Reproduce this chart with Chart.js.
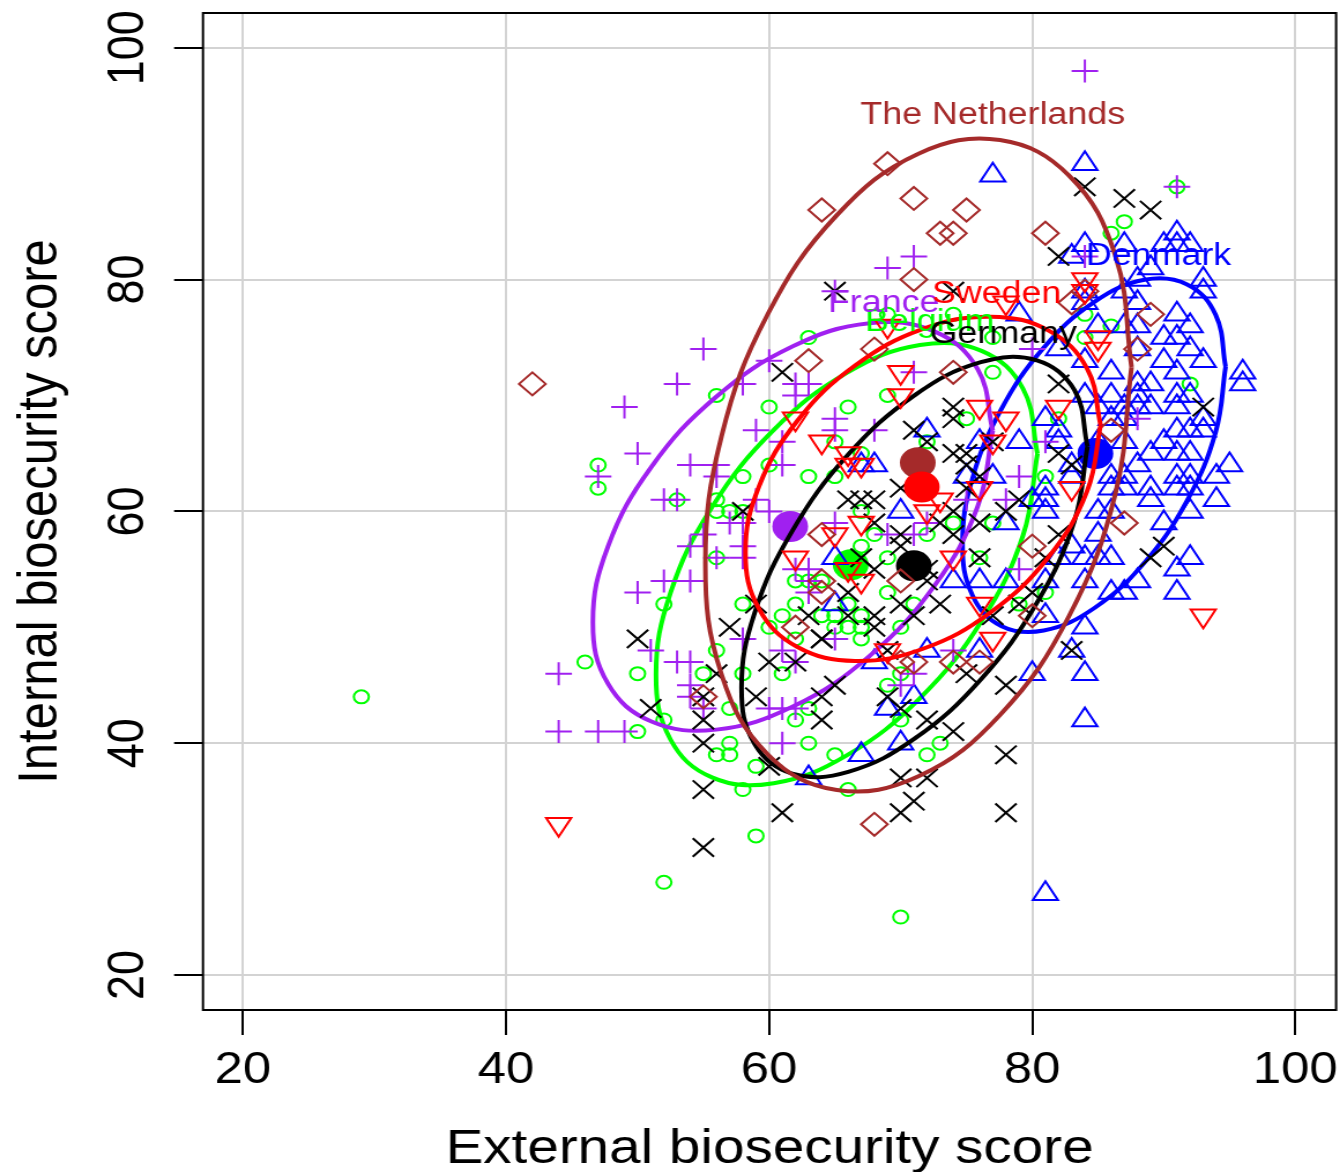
<!DOCTYPE html>
<html>
<head>
<meta charset="utf-8">
<title>Biosecurity scores</title>
<script src="https://cdn.jsdelivr.net/npm/chart.js@4"></script>
<style>
  html, body { margin: 0; background: #fff; overflow: hidden; }
  /* the original figure was stretched sideways, text and marks included */
  canvas { display: block; transform: scaleX(1.1552); transform-origin: 0 0; }
</style>
</head>
<body>
<canvas id="chart" width="1160" height="1172"></canvas>
<script>
// scores, [external, internal]
const germanyPts = [[84,88],[87,87],[89,86],[82,82],[65,79],[74,79],[61,72],[66,61],[67,61],[68,61],[58,60],[68,59],[70,62],[70,58],[70,57],[68,55],[67,56],[66,53],[70,52],[68,51],[68,50],[66,51],[63,51],[64,49],[59,52],[50,49],[57,50],[71,67],[74,69],[74,68],[72,66],[74,65],[75,65],[75,64],[76,63],[75,62],[77,66],[82,71],[82,65],[83,64],[93,69],[79,61],[78,60],[74,60],[74,58],[76,59],[73,59],[82,58],[90,57],[89,56],[76,56],[72,55],[72,54],[73,52],[71,51],[80,53],[79,52],[81,56],[77,51],[51,43],[56,46],[55,42],[55,40],[55,44],[55,36],[55,31],[60,47],[59,44],[62,47],[64,49],[65,45],[64,44],[64,42],[72,42],[74,41],[70,37],[72,37],[71,35],[70,34],[61,34],[78,39],[78,34],[60,38],[75,46],[78,45],[69,44],[70,43],[83,48],[69,48]];
const denmarkPts = [[84,90],[77,89],[91,84],[90,83],[92,83],[91,83],[84,83],[83,82],[87,83],[89,81],[88,80],[93,80],[93,79],[87,79],[84,79],[88,78],[91,77],[92,76],[90,75],[91,75],[85,76],[87,76],[88,76],[79,77],[84,78],[82,74],[88,74],[84,73],[86,72],[90,73],[92,74],[93,73],[91,72],[84,70],[86,70],[88,71],[89,71],[91,70],[85,69],[87,69],[88,70],[89,69],[91,69],[92,70],[81,68],[82,67],[86,68],[87,68],[88,69],[91,67],[92,67],[93,67],[93,68],[79,66],[82,66],[85,66],[87,66],[90,66],[89,65],[91,65],[92,65],[83,64],[88,64],[91,63],[92,63],[83,63],[86,63],[87,63],[86,62],[87,62],[89,62],[91,62],[92,62],[89,61],[81,62],[81,61],[80,61],[85,60],[86,60],[81,60],[78,59],[85,58],[83,57],[84,56],[85,56],[86,56],[82,56],[81,54],[84,54],[76,54],[74,54],[78,54],[86,53],[87,53],[88,54],[81,51],[84,50],[72,67],[77,63],[76,66],[75,63],[68,64],[67,64],[70,60],[65,56],[65,52],[67,39],[70,40],[69,43],[71,44],[63,37],[81,27],[80,46],[68,47],[72,48],[76,48],[83,48],[84,42],[84,46],[96,72],[96,71],[95,64],[94,63],[94,61],[92,56],[91,55],[91,53],[90,59],[92,60]];
const francePts = [[84,98],[71,82],[69,81],[65,79],[55,74],[53,71],[49,69],[50,65],[47,63],[52,61],[53,61],[54,64],[56,64],[56,63],[60,73],[58,71],[62,71],[63,71],[62,70],[59,67],[61,66],[65,68],[65,67],[68,67],[61,64],[59,61],[60,60],[57,59],[58,59],[55,58],[54,57],[58,57],[56,56],[58,56],[52,54],[54,54],[50,53],[65,59],[69,58],[62,55],[63,55],[63,54],[63,53],[44,46],[44,41],[47,41],[49,41],[51,48],[53,47],[54,47],[54,45],[54,44],[55,43],[58,49],[61,48],[62,47],[65,49],[60,43],[61,43],[62,43],[61,40],[74,48],[71,46],[70,45],[81,66],[79,63],[78,61],[75,61],[72,59],[71,58],[79,55],[88,68],[71,72],[80,74],[91,88],[84,82]];
const belgiumPts = [[29,44],[52,28],[59,32],[70,25],[47,64],[47,62],[53,61],[56,70],[60,69],[66,69],[69,70],[67,65],[65,66],[60,64],[58,63],[63,63],[65,63],[56,61],[56,60],[57,60],[58,60],[67,60],[68,58],[67,57],[69,56],[56,56],[64,54],[62,54],[63,54],[69,53],[52,52],[58,52],[62,52],[61,51],[64,51],[65,51],[66,52],[67,51],[66,50],[67,50],[65,50],[70,50],[60,50],[71,52],[77,72],[75,68],[72,66],[92,71],[81,63],[77,59],[74,59],[72,58],[76,56],[79,52],[81,53],[82,68],[63,75],[87,85],[86,84],[91,88],[84,77],[86,76],[84,75],[74,77],[69,77],[77,75],[46,47],[50,46],[55,46],[50,41],[58,46],[61,46],[62,49],[67,49],[56,48],[57,43],[52,42],[63,43],[62,42],[57,40],[56,39],[57,39],[59,38],[63,40],[65,39],[58,36],[66,36],[73,40],[72,39],[69,45],[70,42],[70,46]];
const swedenPts = [[62,68],[64,66],[66,65],[67,64],[66,64],[70,72],[70,70],[67,59],[65,58],[62,56],[66,55],[67,54],[76,69],[78,68],[77,66],[82,69],[83,62],[76,62],[73,61],[72,60],[74,56],[76,52],[93,51],[77,49],[85,74],[84,80],[84,79],[78,78],[85,75],[69,76],[44,33],[69,48]];
const netherlandsPts = [[42,71],[63,73],[68,74],[64,58],[64,54],[64,53],[62,50],[70,54],[64,86],[69,90],[71,87],[75,86],[73,84],[74,84],[81,84],[71,80],[84,79],[83,78],[89,77],[74,72],[88,74],[86,67],[87,59],[80,57],[80,51],[55,44],[68,33],[70,47],[71,47],[74,47],[76,47]];

// ellipse outlines
const germanyRing = [[84.2,65.61],[83.2,70.48],[80.35,73.03],[76.09,72.87],[71.05,70.01],[66.01,64.9],[61.75,58.3],[58.9,51.25],[57.9,44.79],[58.9,39.92],[61.75,37.37],[66.01,37.53],[71.05,40.39],[76.09,45.5],[80.35,52.1],[83.2,59.15],[84.2,65.61]];
const denmarkRing = [[94.7,72.48],[93.94,76.96],[91.77,79.58],[88.53,79.98],[84.7,78.06],[80.87,74.12],[77.63,68.78],[75.46,62.87],[74.7,57.22],[75.46,52.74],[77.63,50.12],[80.87,49.72],[84.7,51.64],[88.53,55.58],[91.77,60.92],[93.94,66.83],[94.7,72.48]];
const franceRing = [[77,66.97],[75.84,72.29],[72.55,75.53],[67.62,76.23],[61.8,74.24],[55.98,69.89],[51.05,63.84],[47.76,57.01],[46.6,50.43],[47.76,45.11],[51.05,41.87],[55.98,41.17],[61.8,43.16],[67.62,47.51],[72.55,53.56],[75.84,60.39],[77,66.97]];
const belgiumRing = [[80.4,64.98],[79.3,70.58],[76.15,73.85],[71.45,74.35],[65.9,71.95],[60.35,67.03],[55.65,60.36],[52.5,52.97],[51.4,45.92],[52.5,40.32],[55.65,37.05],[60.35,36.55],[65.9,38.95],[71.45,43.87],[76.15,50.54],[79.3,57.93],[80.4,64.98]];
const swedenRing = [[85.2,67.44],[84.17,72.32],[81.25,75.6],[76.87,76.8],[71.7,75.75],[66.53,72.58],[62.15,67.82],[59.23,62.16],[58.2,56.46],[59.23,51.58],[62.15,48.3],[66.53,47.1],[71.7,48.15],[76.87,51.32],[81.25,56.08],[84.17,61.74],[85.2,67.44]];
const netherlandsRing = [[87.55,72.45],[86.32,82.07],[82.8,88.97],[77.55,92.04],[71.35,90.86],[65.15,85.56],[59.9,77.03],[56.38,66.48],[55.15,55.55],[56.38,45.93],[59.9,39.03],[65.15,35.96],[71.35,37.14],[77.55,42.44],[82.8,50.97],[86.32,61.52],[87.55,72.45]];

const countries = ['Belgium', 'Denmark', 'France', 'Germany', 'The Netherlands', 'Sweden'];
const colours = ['#00ff00', '#0000ff', '#a020f0', '#000000', '#a52a2a', '#ff0000'];
const means = [[66.2,55.4],[84.8,65],[61.6,58.7],[71,55.3],[71.3,64.2],[71.6,62.1]];
const labelSpots = [[72.2,76.28],[89.6,81.98],[68.7,77.98],[77.8,75.28],[77,94.18],[77.3,78.68]];
const tickValues = [20, 40, 60, 80, 100];

const pts = [belgiumPts, denmarkPts, francePts, germanyPts, netherlandsPts, swedenPts];
const rings = [belgiumRing, denmarkRing, franceRing, germanyRing, netherlandsRing, swedenRing];
const shapes = [
  { style: 'circle', radius: 6.5, rotation: 0 },
  { style: 'triangle', radius: 12.5, rotation: 0 },
  { style: 'cross', radius: 11.5, rotation: 0 },
  { style: 'crossRot', radius: 13, rotation: 0 },
  { style: 'rectRot', radius: 11.5, rotation: 0 },
  { style: 'triangle', radius: 12.5, rotation: 180 }
];
const toXY = a => a.map(p => ({ x: p[0], y: p[1] }));

// one group after the other, alphabetical: points, ellipse, mean dot
const datasets = [];
countries.forEach((name, i) => {
  datasets.push({
    label: name, data: toXY(pts[i]), showLine: false, pointStyle: shapes[i].style, pointRadius: shapes[i].radius,
    pointRotation: shapes[i].rotation, pointBorderColor: colours[i], pointBackgroundColor: 'transparent', pointBorderWidth: 2
  });
  datasets.push({
    label: name + ' ellipse', data: toXY(rings[i]), showLine: true, tension: 0.4,
    borderColor: colours[i], borderWidth: 4, pointRadius: 0, fill: false
  });
  datasets.push({
    label: name + ' mean', data: toXY([means[i]]), showLine: false, pointStyle: 'circle', pointRadius: 15.5,
    pointBackgroundColor: colours[i], pointBorderColor: colours[i], pointBorderWidth: 0
  });
});
datasets.forEach((d, i) => { d.order = datasets.length - i; });

const frameAndNames = {
  id: 'frameAndNames',
  afterDatasetsDraw(chart) {
    const { ctx, chartArea: a, scales } = chart;
    ctx.save();
    ctx.strokeStyle = '#000';
    ctx.lineWidth = 2;
    ctx.strokeRect(a.left, a.top, a.right - a.left, a.bottom - a.top);
    ctx.font = '31px "Liberation Sans"';
    ctx.textAlign = 'center';
    ctx.textBaseline = 'middle';
    countries.forEach((name, i) => {
      ctx.fillStyle = colours[i];
      ctx.fillText(name, scales.x.getPixelForValue(labelSpots[i][0]), scales.y.getPixelForValue(labelSpots[i][1]));
    });
    ctx.restore();
  }
};

function fixSize(prop, size) {
  return scale => {
    scale[prop] = size;
    scale.paddingLeft = scale.paddingRight = scale.paddingTop = scale.paddingBottom = 0;
  };
}

const axisBase = {
  type: 'linear',
  bounds: 'data',
  afterBuildTicks: s => { s.ticks = tickValues.map(v => ({ value: v })); },
  grid: { color: '#d3d3d3', lineWidth: 2, tickColor: '#000', tickWidth: 2, tickLength: 25, drawTicks: true },
  border: { display: false }
};

new Chart(document.getElementById('chart'), {
  type: 'scatter',
  data: { datasets },
  plugins: [frameAndNames],
  options: {
    responsive: false,
    animation: false,
    events: [],
    layout: { autoPadding: false, padding: { top: 13, right: 3.4, left: 0, bottom: 0 } },
    plugins: { legend: { display: false }, tooltip: { enabled: false } },
    scales: {
      x: {
        ...axisBase,
        min: 16.96, max: 103.1,
        afterFit: fixSize('height', 162),
        ticks: { autoSkip: false, maxRotation: 0, padding: 9, color: '#000', font: { family: 'Liberation Sans', size: 44 } },
        title: { display: true, text: 'External biosecurity score', color: '#000', padding: { top: 8, bottom: -7 }, font: { family: 'Liberation Sans', size: 49 } }
      },
      y: {
        ...axisBase,
        min: 16.98, max: 103.0,
        afterFit: fixSize('width', 175.7),
        ticks: { autoSkip: false, minRotation: 90, maxRotation: 90, crossAlign: 'center', padding: 2, color: '#000', font: { family: 'Liberation Sans', size: 45 } },
        title: { display: true, text: 'Internal biosecurity score', color: '#000', padding: { top: 6, bottom: 0 }, font: { family: 'Liberation Sans', size: 49 } }
      }
    }
  }
});
</script>
</body>
</html>
